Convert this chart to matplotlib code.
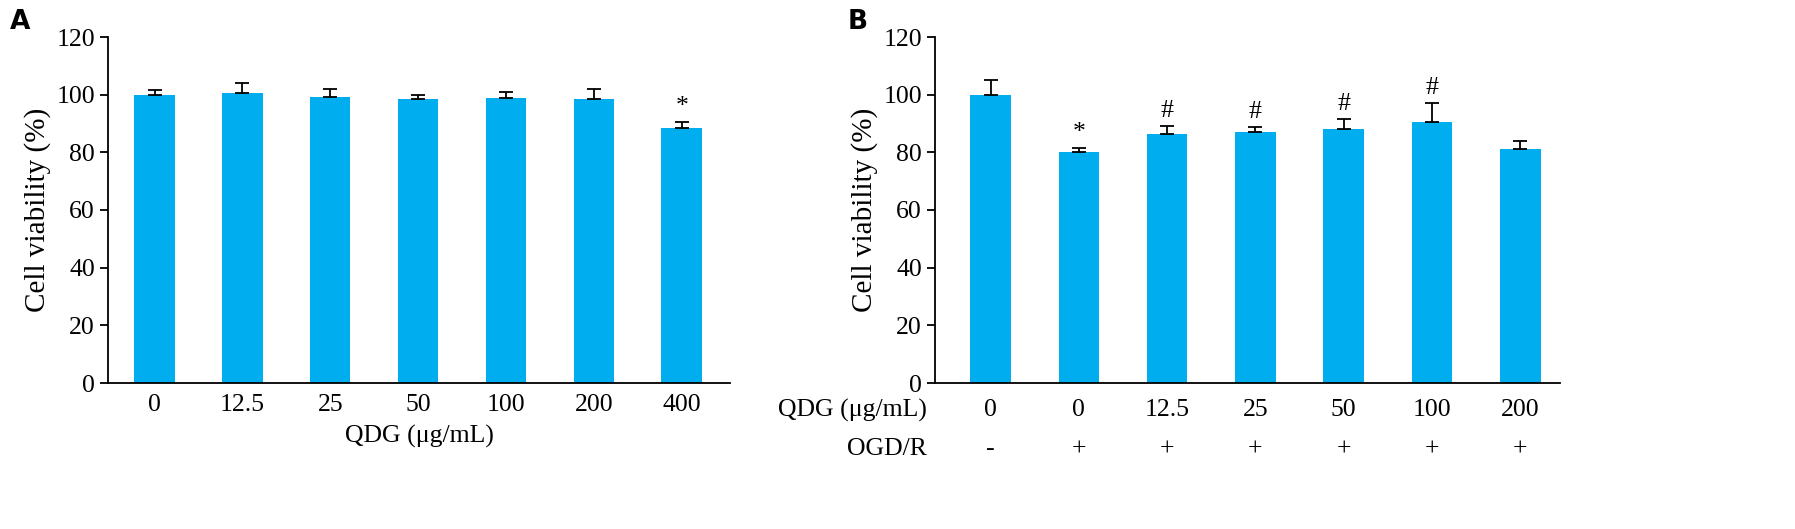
import matplotlib
matplotlib.use("Agg")
import matplotlib.pyplot as plt
import matplotlib.transforms as mt

a_labels = ["0", "12.5", "25", "50", "100", "200", "400"]
a_vals = [100, 100.5, 99.3, 98.5, 99, 98.5, 88.5]
a_err = [1.5, 3.5, 2.8, 1.5, 1.8, 3.5, 2.0]
a_sig = ["", "", "", "", "", "", "*"]

b_qdg = ["0", "0", "12.5", "25", "50", "100", "200"]
b_ogd = ["-", "+", "+", "+", "+", "+", "+"]
b_vals = [100, 80, 86.5, 87, 88, 90.5, 81]
b_err = [5, 1.5, 2.5, 1.8, 3.5, 6.5, 3]
b_sig = ["", "*", "#", "#", "#", "#", ""]

plt.rcParams['font.family'] = ['Liberation Serif', 'DejaVu Serif']
color = "#00AEEF"
W, H = 1795, 529
fig = plt.figure(figsize=(W/100, H/100), dpi=100)
FS = 18.5

def px_ax(l, r, t, b):
    return fig.add_axes([l/W, 1-b/H, (r-l)/W, (b-t)/H])

def setup(ax, vals, err, sig, xlim):
    x = list(range(len(vals)))
    ax.bar(x, vals, width=0.46, color=color, zorder=2)
    ax.errorbar(x, vals, yerr=[[0]*len(err), err], fmt="none", ecolor="black",
                elinewidth=1.3, capsize=5, capthick=1.3, zorder=3)
    for xi, v, e, s in zip(x, vals, err, sig):
        if s:
            ax.text(xi, v+e+1.5, s, ha="center", va="bottom", fontsize=FS)
    ax.set_ylim(0, 120)
    ax.set_yticks(range(0, 121, 20))
    ax.set_xlim(*xlim)
    for s in ["top", "right"]:
        ax.spines[s].set_visible(False)
    for s in ["left", "bottom"]:
        ax.spines[s].set_linewidth(1.3)
    ax.tick_params(axis="y", labelsize=FS, width=1.3, length=6)
    ax.set_ylabel("Cell viability (%)", fontsize=21)

ax1 = px_ax(108, 730, 37, 383)
setup(ax1, a_vals, a_err, a_sig, (-0.53, 6.55))
ax1.set_xticks(range(len(a_labels)))
ax1.set_xticklabels(a_labels, fontsize=FS)
ax1.tick_params(axis="x", length=0, pad=8)
ax1.set_xlabel("QDG (μg/mL)", fontsize=FS, labelpad=6)

ax2 = px_ax(935, 1560, 37, 383)
setup(ax2, b_vals, b_err, b_sig, (-0.63, 6.45))
ax2.set_xticks([])
tr = mt.blended_transform_factory(ax2.transData, ax2.transAxes)
for i, (q, o) in enumerate(zip(b_qdg, b_ogd)):
    ax2.text(i, -0.045, q, transform=tr, ha="center", va="top", fontsize=FS)
    ax2.text(i, -0.16, o, transform=tr, ha="center", va="top", fontsize=FS)
ax2.text(-0.72, -0.045, "QDG (μg/mL)", transform=tr, ha="right", va="top", fontsize=FS)
ax2.text(-0.72, -0.16, "OGD/R", transform=tr, ha="right", va="top", fontsize=FS)

fig.text(10/W, 1-22/H, "A", fontsize=19, fontweight="bold", family="DejaVu Sans", va="center")
fig.text(848/W, 1-22/H, "B", fontsize=19, fontweight="bold", family="DejaVu Sans", va="center")

fig.savefig("out.png", dpi=100)
